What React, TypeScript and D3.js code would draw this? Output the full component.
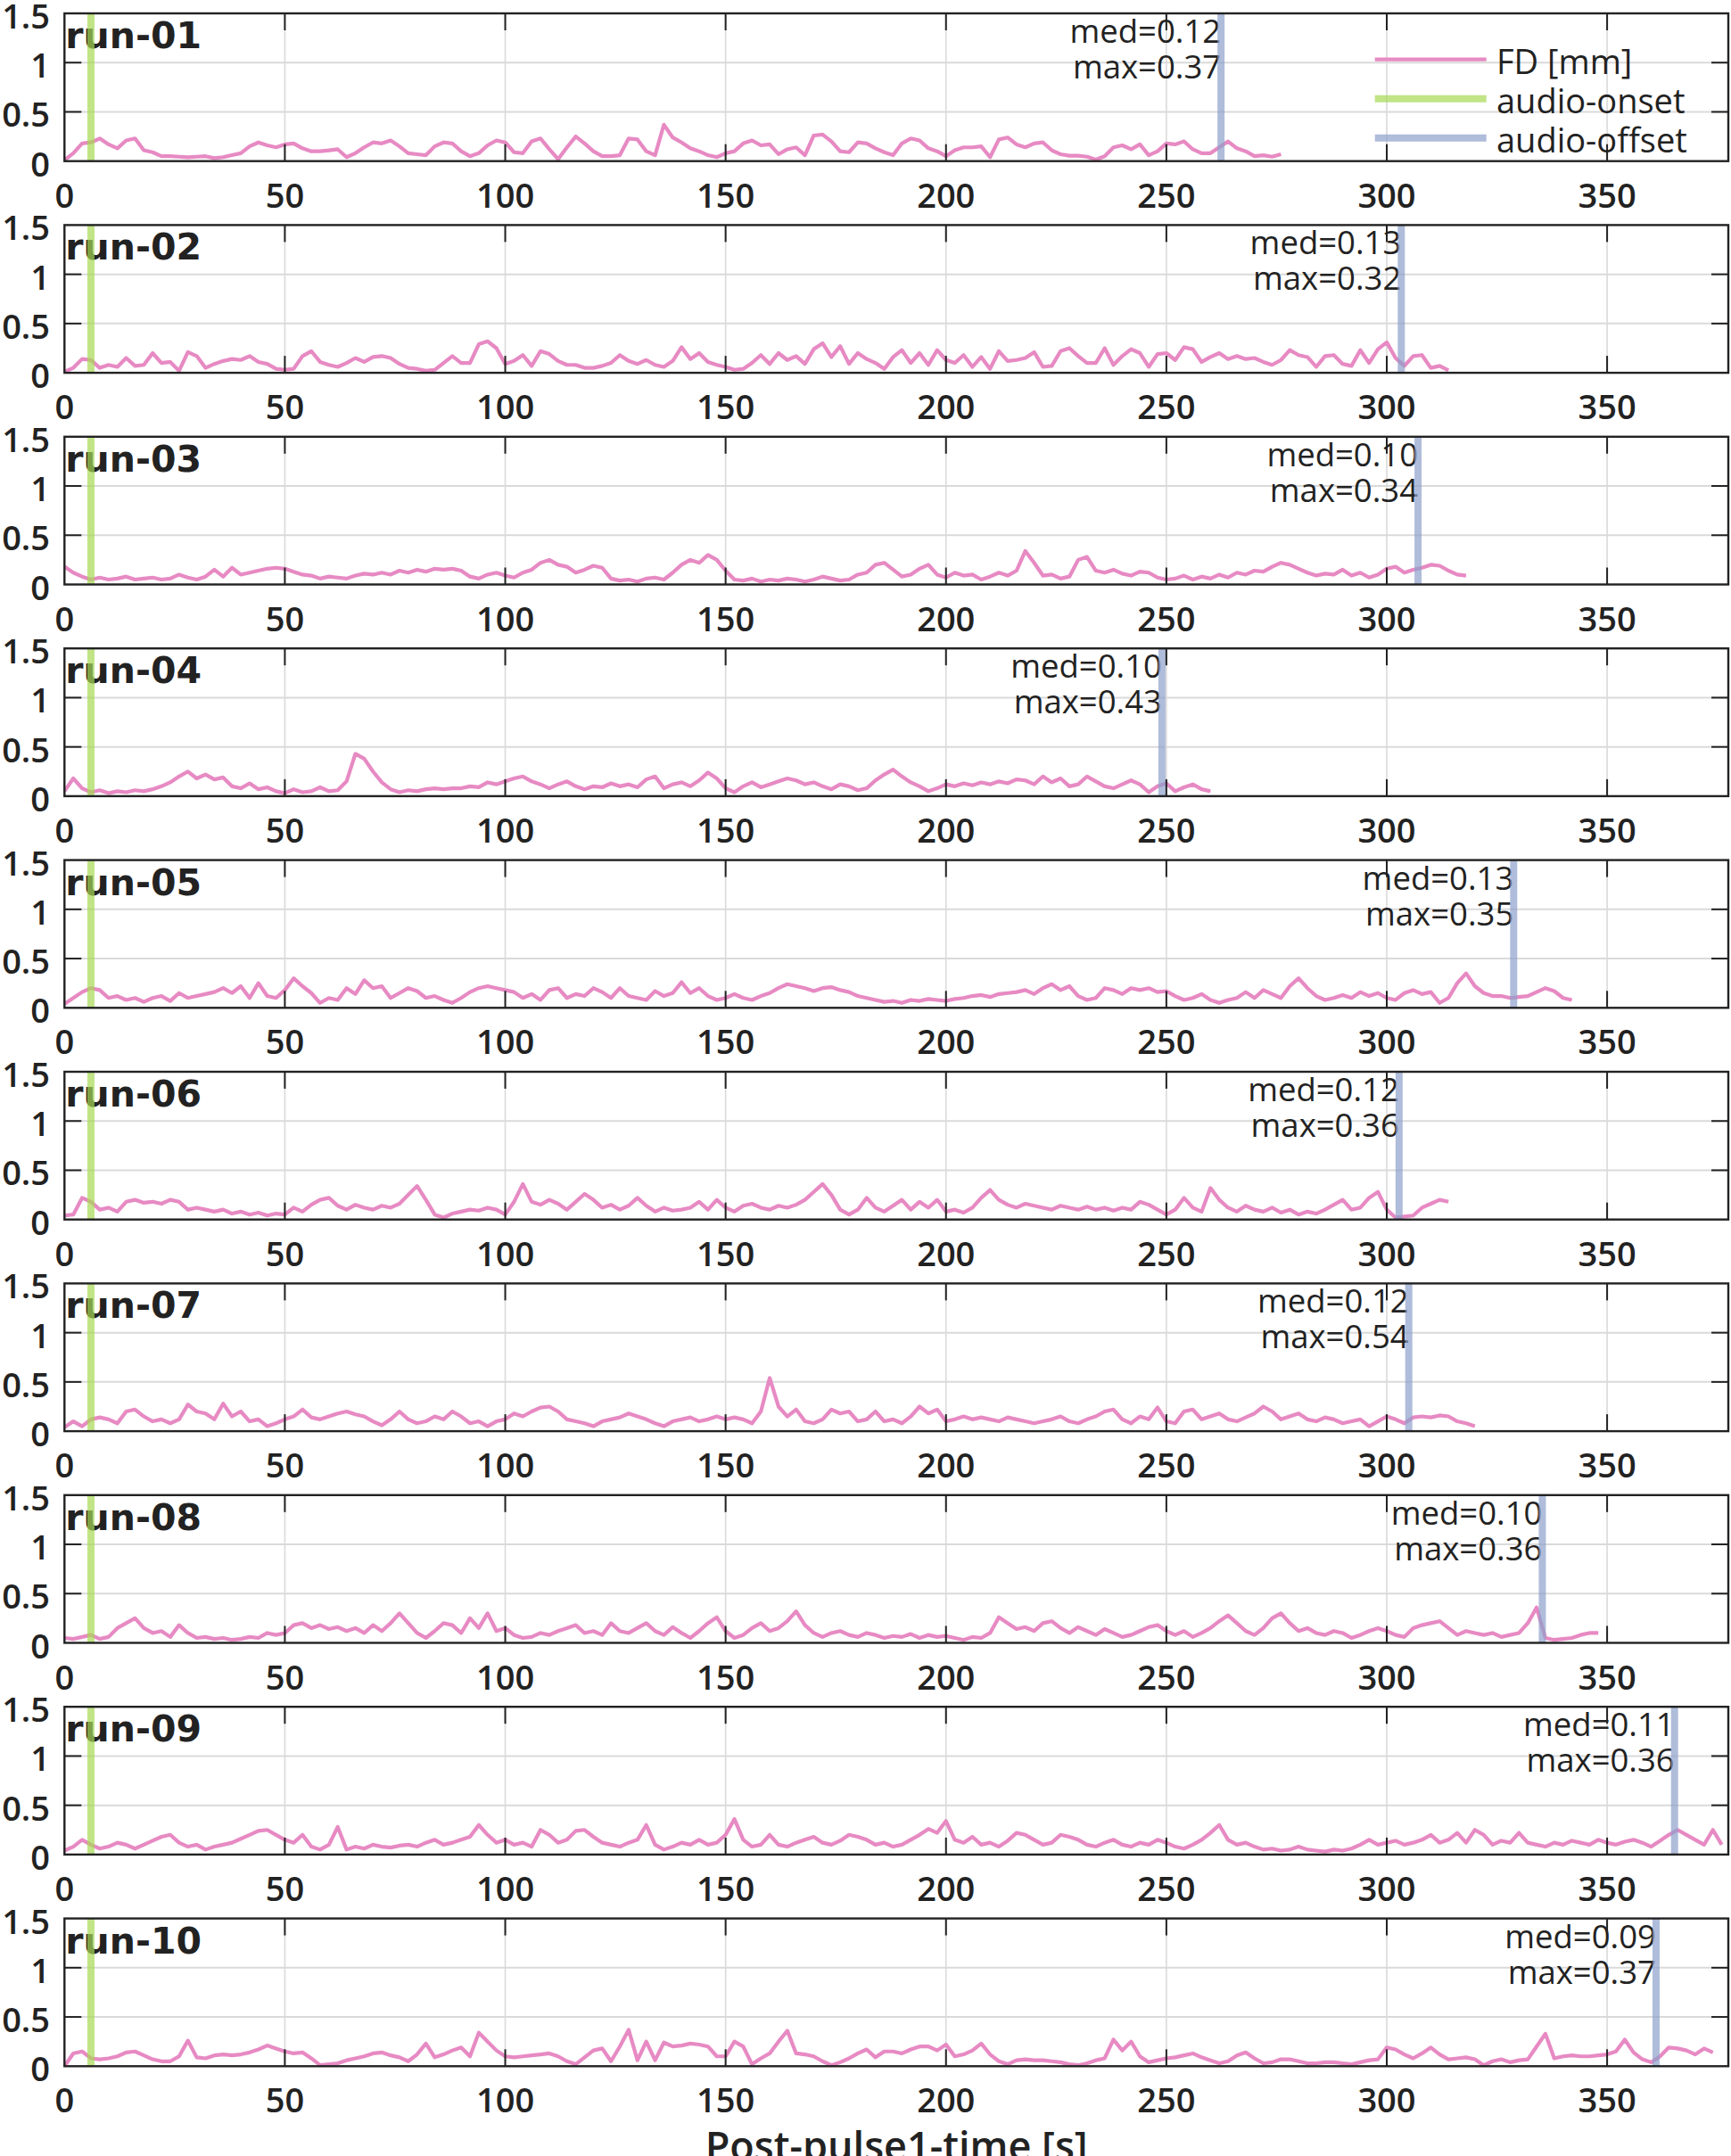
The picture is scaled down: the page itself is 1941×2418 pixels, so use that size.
import React from 'react';
import * as d3 from 'd3';

// ---------- data ----------
const runNames = ['run-01', 'run-02', 'run-03', 'run-04', 'run-05', 'run-06', 'run-07', 'run-08', 'run-09', 'run-10'];
const TR = 2; // seconds between FD samples

const fd01 = [0.01,0.08,0.18,0.19,0.23,0.17,0.13,0.21,0.23,0.11,0.09,0.05,0.05,0.045,0.04,0.045,0.05,0.03,0.04,0.06,0.08,0.15,0.19,0.16,0.14,0.17,0.18,0.13,0.1,0.1,0.11,0.12,0.04,0.08,0.14,0.19,0.18,0.21,0.15,0.08,0.07,0.06,0.15,0.19,0.18,0.1,0.05,0.08,0.16,0.21,0.19,0.09,0.08,0.2,0.23,0.12,0.02,0.14,0.25,0.18,0.1,0.05,0.05,0.06,0.23,0.22,0.1,0.06,0.37,0.24,0.19,0.13,0.1,0.06,0.04,0.08,0.1,0.18,0.21,0.16,0.17,0.07,0.12,0.14,0.06,0.26,0.27,0.2,0.1,0.09,0.19,0.18,0.13,0.09,0.06,0.18,0.23,0.21,0.13,0.1,0.05,0.11,0.14,0.14,0.15,0.04,0.22,0.24,0.17,0.14,0.18,0.19,0.11,0.07,0.055,0.055,0.045,0.015,0.05,0.14,0.16,0.12,0.17,0.06,0.1,0.18,0.17,0.2,0.12,0.08,0.08,0.14,0.2,0.13,0.1,0.05,0.06,0.045,0.07];
const fd02 = [0.01,0.05,0.14,0.13,0.05,0.08,0.06,0.15,0.07,0.08,0.2,0.1,0.11,0.02,0.21,0.17,0.05,0.09,0.12,0.14,0.13,0.17,0.11,0.09,0.04,0.03,0.04,0.17,0.22,0.11,0.08,0.06,0.1,0.15,0.11,0.16,0.17,0.15,0.09,0.05,0.04,0.02,0.03,0.1,0.17,0.1,0.1,0.29,0.32,0.25,0.09,0.12,0.18,0.07,0.22,0.19,0.12,0.08,0.08,0.05,0.05,0.07,0.1,0.18,0.12,0.09,0.13,0.08,0.06,0.12,0.26,0.14,0.2,0.11,0.08,0.06,0.03,0.04,0.1,0.18,0.09,0.2,0.13,0.17,0.09,0.24,0.3,0.16,0.27,0.09,0.2,0.14,0.1,0.04,0.16,0.23,0.1,0.2,0.08,0.23,0.13,0.1,0.18,0.06,0.16,0.04,0.22,0.12,0.13,0.15,0.21,0.06,0.07,0.22,0.25,0.17,0.1,0.1,0.25,0.08,0.17,0.24,0.2,0.06,0.19,0.2,0.13,0.26,0.24,0.11,0.16,0.2,0.14,0.17,0.14,0.15,0.11,0.08,0.13,0.23,0.18,0.16,0.06,0.17,0.18,0.09,0.07,0.23,0.1,0.24,0.31,0.15,0.07,0.17,0.18,0.05,0.07,0.025];
const fd03 = [0.18,0.12,0.08,0.05,0.07,0.05,0.06,0.08,0.05,0.06,0.07,0.05,0.06,0.1,0.07,0.05,0.08,0.15,0.08,0.17,0.1,0.12,0.14,0.16,0.17,0.16,0.13,0.1,0.09,0.06,0.08,0.07,0.06,0.09,0.11,0.1,0.12,0.1,0.14,0.12,0.15,0.13,0.16,0.15,0.16,0.14,0.08,0.06,0.1,0.12,0.09,0.07,0.12,0.15,0.22,0.25,0.2,0.18,0.12,0.15,0.19,0.17,0.06,0.04,0.05,0.03,0.06,0.07,0.05,0.12,0.2,0.25,0.22,0.3,0.25,0.14,0.05,0.04,0.06,0.03,0.05,0.04,0.06,0.05,0.03,0.05,0.08,0.06,0.04,0.05,0.1,0.12,0.2,0.22,0.15,0.08,0.1,0.16,0.2,0.1,0.07,0.12,0.09,0.1,0.05,0.08,0.12,0.09,0.14,0.34,0.22,0.09,0.1,0.06,0.08,0.25,0.28,0.14,0.12,0.15,0.11,0.09,0.13,0.12,0.07,0.05,0.06,0.09,0.05,0.08,0.06,0.1,0.07,0.12,0.1,0.14,0.13,0.18,0.22,0.2,0.16,0.12,0.09,0.11,0.1,0.15,0.09,0.12,0.07,0.1,0.16,0.18,0.12,0.15,0.17,0.2,0.19,0.14,0.1,0.09];
const fd04 = [0.05,0.18,0.08,0.04,0.06,0.03,0.05,0.04,0.06,0.05,0.07,0.1,0.14,0.2,0.25,0.18,0.22,0.17,0.19,0.1,0.08,0.13,0.07,0.09,0.05,0.03,0.07,0.04,0.05,0.09,0.05,0.06,0.15,0.43,0.38,0.25,0.14,0.07,0.04,0.06,0.05,0.07,0.08,0.07,0.08,0.08,0.1,0.09,0.14,0.12,0.15,0.18,0.2,0.15,0.12,0.08,0.12,0.15,0.1,0.07,0.1,0.09,0.13,0.1,0.12,0.09,0.17,0.2,0.08,0.12,0.14,0.1,0.16,0.24,0.18,0.08,0.04,0.1,0.14,0.09,0.12,0.15,0.18,0.16,0.12,0.14,0.1,0.07,0.12,0.1,0.06,0.08,0.16,0.22,0.27,0.2,0.14,0.1,0.05,0.08,0.12,0.1,0.13,0.11,0.14,0.12,0.15,0.13,0.17,0.16,0.12,0.2,0.14,0.18,0.1,0.12,0.2,0.15,0.1,0.08,0.12,0.16,0.12,0.04,0.1,0.13,0.05,0.09,0.12,0.07,0.05];
const fd05 = [0.04,0.1,0.16,0.2,0.18,0.1,0.12,0.08,0.1,0.06,0.1,0.12,0.07,0.15,0.1,0.12,0.14,0.16,0.2,0.15,0.22,0.1,0.25,0.12,0.1,0.18,0.3,0.22,0.15,0.05,0.1,0.08,0.2,0.14,0.28,0.2,0.22,0.1,0.15,0.2,0.17,0.1,0.12,0.08,0.05,0.1,0.16,0.2,0.22,0.2,0.18,0.16,0.1,0.14,0.08,0.18,0.2,0.1,0.14,0.12,0.2,0.16,0.1,0.2,0.12,0.1,0.08,0.17,0.12,0.15,0.26,0.15,0.2,0.12,0.08,0.1,0.14,0.1,0.08,0.12,0.15,0.2,0.24,0.22,0.2,0.17,0.2,0.21,0.18,0.16,0.12,0.1,0.08,0.06,0.07,0.05,0.08,0.07,0.09,0.08,0.07,0.09,0.1,0.12,0.13,0.11,0.14,0.15,0.16,0.18,0.14,0.2,0.24,0.18,0.22,0.12,0.08,0.1,0.2,0.18,0.14,0.2,0.18,0.2,0.16,0.17,0.12,0.08,0.1,0.14,0.08,0.05,0.08,0.1,0.16,0.1,0.18,0.14,0.1,0.22,0.3,0.2,0.12,0.08,0.1,0.13,0.1,0.16,0.12,0.15,0.1,0.08,0.15,0.18,0.14,0.16,0.05,0.1,0.25,0.35,0.22,0.15,0.12,0.12,0.1,0.11,0.12,0.16,0.2,0.17,0.1,0.08];
const fd06 = [0.04,0.05,0.22,0.18,0.1,0.12,0.08,0.18,0.2,0.17,0.18,0.16,0.2,0.18,0.1,0.12,0.1,0.08,0.1,0.06,0.08,0.05,0.07,0.04,0.06,0.05,0.12,0.08,0.15,0.2,0.22,0.14,0.1,0.15,0.12,0.1,0.14,0.12,0.16,0.25,0.34,0.2,0.05,0.02,0.06,0.08,0.1,0.09,0.12,0.1,0.05,0.18,0.36,0.18,0.15,0.2,0.16,0.1,0.18,0.26,0.2,0.12,0.15,0.1,0.14,0.22,0.14,0.08,0.12,0.09,0.1,0.12,0.18,0.1,0.2,0.12,0.08,0.14,0.16,0.12,0.1,0.14,0.12,0.15,0.2,0.28,0.36,0.25,0.1,0.05,0.1,0.22,0.12,0.08,0.14,0.2,0.1,0.18,0.12,0.2,0.08,0.1,0.07,0.12,0.22,0.3,0.2,0.15,0.12,0.16,0.14,0.12,0.1,0.14,0.12,0.1,0.13,0.1,0.12,0.09,0.12,0.1,0.18,0.15,0.1,0.05,0.1,0.22,0.12,0.08,0.32,0.2,0.12,0.08,0.14,0.1,0.08,0.12,0.07,0.1,0.05,0.08,0.06,0.1,0.15,0.2,0.1,0.12,0.22,0.28,0.1,0.02,0.03,0.04,0.12,0.16,0.2,0.18];
const fd07 = [0.04,0.1,0.05,0.12,0.14,0.12,0.08,0.2,0.22,0.15,0.1,0.12,0.08,0.12,0.27,0.2,0.18,0.12,0.28,0.15,0.2,0.1,0.12,0.05,0.08,0.12,0.15,0.22,0.14,0.12,0.15,0.18,0.2,0.17,0.15,0.1,0.06,0.12,0.2,0.12,0.08,0.1,0.15,0.12,0.2,0.15,0.08,0.1,0.05,0.1,0.12,0.18,0.15,0.2,0.24,0.25,0.2,0.12,0.1,0.08,0.05,0.1,0.12,0.14,0.18,0.15,0.12,0.08,0.05,0.1,0.12,0.14,0.1,0.12,0.15,0.12,0.14,0.12,0.08,0.2,0.54,0.25,0.15,0.22,0.1,0.08,0.12,0.22,0.18,0.2,0.1,0.12,0.2,0.1,0.12,0.08,0.15,0.25,0.18,0.22,0.1,0.12,0.15,0.12,0.14,0.12,0.1,0.14,0.12,0.1,0.08,0.1,0.12,0.15,0.1,0.08,0.12,0.15,0.2,0.22,0.12,0.08,0.15,0.12,0.24,0.1,0.08,0.2,0.22,0.12,0.15,0.18,0.12,0.1,0.14,0.18,0.25,0.2,0.12,0.15,0.18,0.12,0.1,0.14,0.12,0.08,0.1,0.12,0.05,0.1,0.15,0.12,0.08,0.14,0.15,0.14,0.16,0.15,0.1,0.08,0.05];
const fd08 = [0.05,0.04,0.06,0.08,0.04,0.06,0.15,0.2,0.25,0.15,0.1,0.12,0.06,0.18,0.1,0.05,0.06,0.04,0.05,0.03,0.04,0.06,0.05,0.1,0.08,0.1,0.18,0.2,0.15,0.18,0.14,0.16,0.12,0.15,0.1,0.18,0.12,0.2,0.3,0.2,0.1,0.05,0.12,0.2,0.18,0.1,0.25,0.15,0.3,0.12,0.15,0.08,0.05,0.06,0.1,0.08,0.12,0.15,0.18,0.1,0.12,0.08,0.2,0.12,0.1,0.15,0.2,0.12,0.08,0.16,0.1,0.05,0.12,0.2,0.26,0.12,0.05,0.08,0.15,0.2,0.12,0.15,0.22,0.32,0.18,0.1,0.06,0.1,0.12,0.08,0.06,0.1,0.08,0.05,0.07,0.06,0.09,0.05,0.08,0.06,0.07,0.05,0.03,0.06,0.05,0.1,0.26,0.2,0.14,0.16,0.12,0.2,0.22,0.15,0.1,0.16,0.12,0.08,0.14,0.1,0.06,0.08,0.12,0.16,0.18,0.12,0.08,0.12,0.06,0.1,0.15,0.22,0.28,0.2,0.12,0.08,0.15,0.25,0.3,0.2,0.12,0.15,0.1,0.08,0.12,0.1,0.05,0.08,0.12,0.15,0.12,0.08,0.06,0.15,0.18,0.2,0.22,0.15,0.08,0.12,0.1,0.08,0.1,0.06,0.08,0.1,0.2,0.36,0.05,0.03,0.04,0.05,0.08,0.1,0.1];
const fd09 = [0.04,0.08,0.15,0.1,0.06,0.08,0.12,0.1,0.06,0.1,0.14,0.18,0.2,0.12,0.08,0.1,0.05,0.08,0.1,0.12,0.16,0.2,0.24,0.25,0.2,0.15,0.12,0.2,0.08,0.05,0.1,0.28,0.05,0.08,0.06,0.1,0.08,0.07,0.09,0.1,0.08,0.12,0.15,0.1,0.12,0.15,0.18,0.3,0.2,0.12,0.15,0.1,0.12,0.08,0.25,0.2,0.12,0.15,0.24,0.25,0.18,0.12,0.1,0.08,0.12,0.15,0.3,0.1,0.05,0.08,0.12,0.1,0.15,0.1,0.12,0.2,0.36,0.15,0.08,0.1,0.2,0.1,0.08,0.12,0.15,0.18,0.12,0.1,0.14,0.2,0.18,0.15,0.1,0.12,0.08,0.1,0.15,0.2,0.26,0.22,0.34,0.15,0.12,0.18,0.1,0.12,0.08,0.14,0.22,0.2,0.15,0.1,0.12,0.2,0.18,0.15,0.1,0.08,0.12,0.15,0.1,0.08,0.12,0.1,0.15,0.12,0.08,0.06,0.1,0.15,0.22,0.3,0.15,0.1,0.12,0.08,0.05,0.06,0.04,0.05,0.08,0.05,0.04,0.03,0.05,0.04,0.06,0.1,0.15,0.1,0.12,0.14,0.1,0.12,0.15,0.2,0.12,0.15,0.22,0.12,0.25,0.2,0.1,0.14,0.12,0.22,0.12,0.1,0.08,0.12,0.1,0.14,0.12,0.1,0.15,0.12,0.1,0.13,0.15,0.12,0.08,0.14,0.2,0.25,0.2,0.15,0.1,0.25,0.1];
const fd10 = [0.0,0.13,0.15,0.08,0.07,0.08,0.1,0.14,0.15,0.11,0.07,0.05,0.05,0.1,0.26,0.09,0.08,0.11,0.12,0.11,0.12,0.14,0.17,0.21,0.18,0.15,0.13,0.14,0.08,0.01,0.02,0.03,0.06,0.08,0.1,0.13,0.14,0.11,0.09,0.05,0.12,0.23,0.09,0.12,0.16,0.19,0.1,0.34,0.25,0.16,0.1,0.09,0.1,0.11,0.12,0.13,0.1,0.05,0.02,0.09,0.16,0.18,0.05,0.2,0.37,0.06,0.25,0.06,0.24,0.2,0.21,0.23,0.22,0.2,0.1,0.1,0.25,0.2,0.02,0.08,0.13,0.25,0.36,0.13,0.12,0.1,0.05,0.01,0.04,0.08,0.13,0.17,0.09,0.15,0.15,0.13,0.17,0.2,0.2,0.16,0.22,0.1,0.12,0.16,0.23,0.12,0.05,0.02,0.06,0.07,0.06,0.06,0.05,0.04,0.02,0.01,0.03,0.06,0.08,0.27,0.16,0.25,0.1,0.04,0.06,0.08,0.09,0.11,0.13,0.09,0.06,0.03,0.05,0.11,0.14,0.08,0.03,0.04,0.07,0.07,0.05,0.03,0.03,0.04,0.04,0.03,0.02,0.04,0.06,0.07,0.19,0.17,0.12,0.08,0.13,0.19,0.12,0.07,0.08,0.09,0.07,0.01,0.05,0.07,0.04,0.06,0.07,0.2,0.33,0.08,0.1,0.11,0.1,0.1,0.11,0.12,0.15,0.27,0.14,0.07,0.04,0.1,0.19,0.18,0.16,0.12,0.18,0.14];
const fdSeries = [fd01, fd02, fd03, fd04, fd05, fd06, fd07, fd08, fd09, fd10];

const onsets = [6, 6, 6, 6, 6, 6, 6, 6, 6, 6];
const offsets = [262.4, 303.3, 307.1, 249.0, 328.8, 302.8, 305.0, 335.3, 365.3, 361.1];
const medianLabels = ['0.12', '0.13', '0.10', '0.10', '0.13', '0.12', '0.12', '0.10', '0.11', '0.09'];
const maxLabels = ['0.37', '0.32', '0.34', '0.43', '0.35', '0.36', '0.54', '0.36', '0.36', '0.37'];

const xTicks = [0, 50, 100, 150, 200, 250, 300, 350];
const yTicks = [0, 0.5, 1, 1.5];
const yTickLabels = ['0', '0.5', '1', '1.5'];
const legendLabels = ['FD [mm]', 'audio-onset', 'audio-offset'];
const xLabel = 'Post-pulse1-time [s]';

// ---------- layout ----------
const W = 1941;
const H = 2418;
const LEFT = 72.3;
const RIGHT = 1938;
const TOP0 = 15;
const PITCH = 237.4;
const PH = 165.7;
const X_MAX = 377.5;

const COL_FD = '#e78ac3';
const COL_ON = '#a6d854';
const COL_OFF = '#8da0cb';
const TXT = '#222222';
const GRID = '#dadada';
const SANS = '"Open Sans", "DejaVu Sans", sans-serif';

const x = d3.scaleLinear().domain([0, X_MAX]).range([LEFT, RIGHT]);

function Panel({ idx }: { idx: number }) {
  const top = TOP0 + idx * PITCH;
  const y = d3.scaleLinear().domain([0, 1.5]).range([top + PH, top]);
  const line = d3
    .line<number>()
    .x((_, i) => x(i * TR))
    .y((d) => y(d));
  const tickLen = 19;
  const offX = x(offsets[idx]);
  return (
    <g>
      {/* grid */}
      {xTicks.filter((t) => t > 0).map((t) => (
        <line key={'gx' + t} x1={x(t)} x2={x(t)} y1={top} y2={top + PH} stroke={GRID} strokeWidth={1.6} />
      ))}
      {yTicks.filter((t) => t > 0 && t < 1.5).map((t) => (
        <line key={'gy' + t} x1={LEFT} x2={RIGHT} y1={y(t)} y2={y(t)} stroke={GRID} strokeWidth={2} />
      ))}
      {/* FD */}
      <path d={line(fdSeries[idx]) || ''} fill="none" stroke={COL_FD} strokeWidth={4.2} strokeLinejoin="round" />
      {/* run label */}
      <text x={LEFT + 1} y={top + 39} fontFamily='"DejaVu Sans", sans-serif' fontWeight={700} fontSize={41} fill={TXT}>
        {runNames[idx]}
      </text>
      {/* med / max */}
      <text x={offX} y={top + 19} textAnchor="end" dominantBaseline="central" fontFamily={SANS} fontWeight={400} fontSize={36.5} fill={TXT}>
        {'med=' + medianLabels[idx]}
      </text>
      <text x={offX} y={top + 59} textAnchor="end" dominantBaseline="central" fontFamily={SANS} fontWeight={400} fontSize={36.5} fill={TXT}>
        {'max=' + maxLabels[idx]}
      </text>
      {/* onset / offset */}
      <line x1={x(onsets[idx])} x2={x(onsets[idx])} y1={top} y2={top + PH} stroke={COL_ON} strokeOpacity={0.7} strokeWidth={8} />
      <line x1={offX} x2={offX} y1={top} y2={top + PH} stroke={COL_OFF} strokeOpacity={0.7} strokeWidth={8} />
      {/* box */}
      <rect x={LEFT} y={top} width={RIGHT - LEFT} height={PH} fill="none" stroke={TXT} strokeWidth={2.4} />
      {/* ticks */}
      {xTicks.filter((t) => t > 0).map((t) => (
        <g key={'tx' + t}>
          <line x1={x(t)} x2={x(t)} y1={top} y2={top + tickLen} stroke={TXT} strokeWidth={2} />
          <line x1={x(t)} x2={x(t)} y1={top + PH} y2={top + PH - tickLen} stroke={TXT} strokeWidth={2} />
        </g>
      ))}
      {yTicks.filter((t) => t > 0 && t < 1.5).map((t) => (
        <g key={'ty' + t}>
          <line x1={LEFT} x2={LEFT + tickLen} y1={y(t)} y2={y(t)} stroke={TXT} strokeWidth={2} />
          <line x1={RIGHT} x2={RIGHT - tickLen} y1={y(t)} y2={y(t)} stroke={TXT} strokeWidth={2} />
        </g>
      ))}
      {/* tick labels */}
      {xTicks.map((t) => (
        <text key={'lx' + t} x={x(t)} y={top + PH + 37} textAnchor="middle" dominantBaseline="central" fontFamily={SANS} fontWeight={600} fontSize={38} fill={TXT}>
          {String(t)}
        </text>
      ))}
      {yTicks.map((t, i) => (
        <text key={'ly' + t} x={56} y={y(t) + 2} textAnchor="end" dominantBaseline="central" fontFamily={SANS} fontWeight={600} fontSize={38} fill={TXT}>
          {yTickLabels[i]}
        </text>
      ))}
    </g>
  );
}

function Legend() {
  const top = TOP0;
  const rows = [
    { c: COL_FD, w: 4.3, o: 1, dy: 51.7 },
    { c: COL_ON, w: 8, o: 0.7, dy: 95.7 },
    { c: COL_OFF, w: 8, o: 0.7, dy: 139.7 },
  ];
  return (
    <g>
      {rows.map((r, i) => (
        <g key={i}>
          <line x1={1541.7} x2={1666.7} y1={top + r.dy} y2={top + r.dy} stroke={r.c} strokeOpacity={r.o} strokeWidth={r.w} />
          <text x={1678} y={top + r.dy + 1} dominantBaseline="central" fontFamily={SANS} fontWeight={500} fontSize={38} fill={TXT}>
            {legendLabels[i]}
          </text>
        </g>
      ))}
    </g>
  );
}

export default function App() {
  return (
    <svg
      width={W}
      height={H}
      viewBox={`0 0 ${W} ${H}`}
      style={{ position: 'absolute', left: 0, top: 0, background: '#ffffff' }}
    >
      <rect x={0} y={0} width={W} height={H} fill="#ffffff" />
      {runNames.map((_, i) => (
        <Panel key={i} idx={i} />
      ))}
      <Legend />
      <text x={(LEFT + RIGHT) / 2} y={2423} textAnchor="middle" fontFamily={SANS} fontWeight={600} fontSize={45} fill={TXT}>
        {xLabel}
      </text>
    </svg>
  );
}
